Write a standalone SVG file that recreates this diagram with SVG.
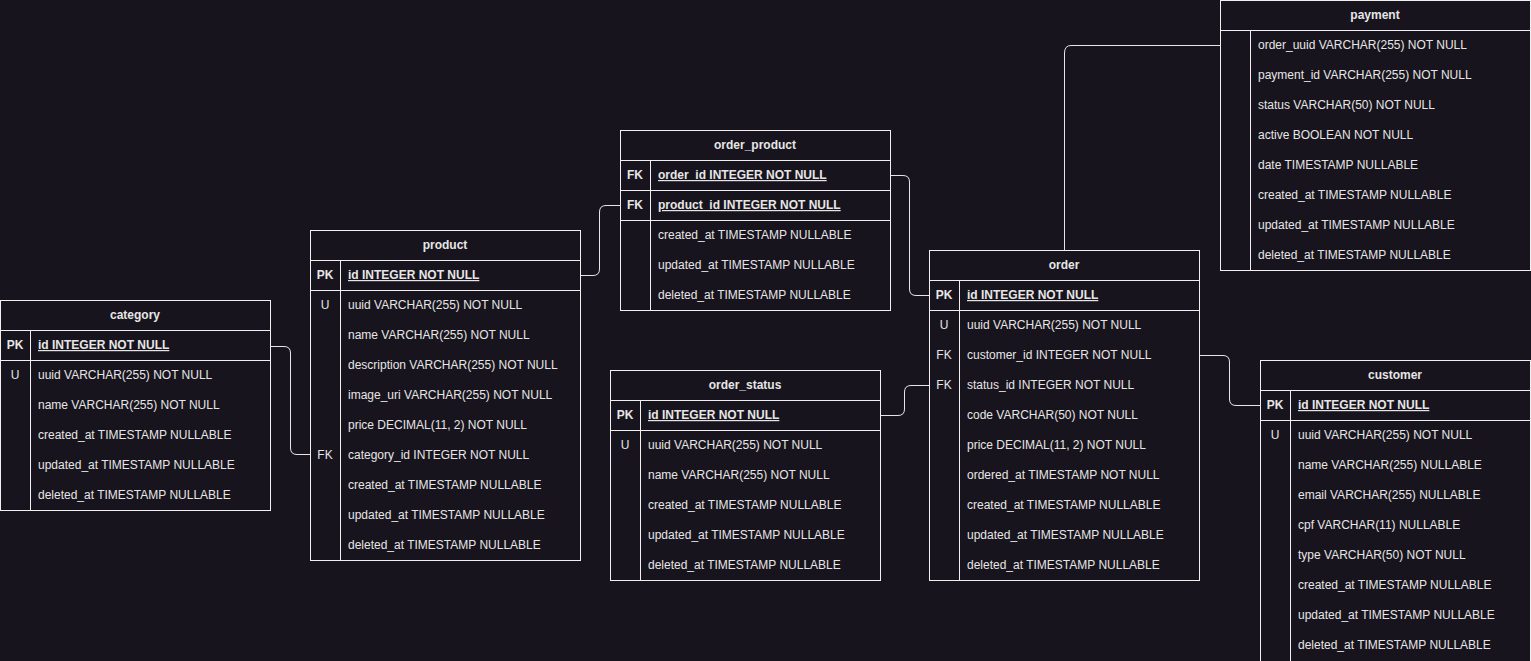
<svg xmlns="http://www.w3.org/2000/svg" width="1531" height="661" viewBox="0 0 1531 661">
<style>
.bg{fill:#18141d}
.tb{fill:#18141d;stroke:#f0f0f0;stroke-width:1}
.ln{stroke:#f0f0f0;stroke-width:1;fill:none}
.cn{stroke:#e6e6e6;stroke-width:1;fill:none}
text{font-family:"Liberation Sans",Arial,Helvetica,sans-serif;font-size:12px;fill:#e6e6e6}
.h{font-weight:bold;text-anchor:middle}
.k{text-anchor:middle}
.kb{text-anchor:middle;font-weight:bold}
.pk{font-weight:bold;text-decoration:underline}
</style>
<rect class="bg" x="0" y="0" width="1531" height="661"/>

<g id="connectors">
<path class="cn" d="M270.5,346.5 H284 Q290.5,346.5 290.5,353 V448 Q290.5,454.5 297,454.5 H310.5"/>
<path class="cn" d="M580.5,275.5 H593 Q599.5,275.5 599.5,269 V212 Q599.5,205.5 606,205.5 H620.5"/>
<path class="cn" d="M890.5,175.5 H903 Q909.5,175.5 909.5,182 V289 Q909.5,295.5 916,295.5 H929.5"/>
<path class="cn" d="M880.5,415.5 H898 Q904.5,415.5 904.5,409 V392 Q904.5,385.5 911,385.5 H929.5"/>
<path class="cn" d="M1199.5,355.5 H1223 Q1229.5,355.5 1229.5,362 V399 Q1229.5,405.5 1236,405.5 H1260.5"/>
<path class="cn" d="M1064.5,250.5 V53 Q1064.5,45.5 1071,45.5 H1220.5"/>
</g>

<g id="category">
<rect class="tb" x="0.5" y="300.5" width="270" height="210"/>
<path class="ln" d="M0.5,330.5 H270.5 M0.5,360.5 H270.5 M30.5,330.5 V510.5"/>
<text class="h" x="135" y="319">category</text>
<text class="kb" x="15" y="349">PK</text><text class="pk" x="38" y="349">id INTEGER NOT NULL</text>
<text class="k" x="15" y="379">U</text><text x="38" y="379">uuid VARCHAR(255) NOT NULL</text>
<text x="38" y="409">name VARCHAR(255) NOT NULL</text>
<text x="38" y="439">created_at TIMESTAMP NULLABLE</text>
<text x="38" y="469">updated_at TIMESTAMP NULLABLE</text>
<text x="38" y="499">deleted_at TIMESTAMP NULLABLE</text>
</g>

<g id="product">
<rect class="tb" x="310.5" y="230.5" width="270" height="330"/>
<path class="ln" d="M310.5,260.5 H580.5 M310.5,290.5 H580.5 M340.5,260.5 V560.5"/>
<text class="h" x="445" y="249">product</text>
<text class="kb" x="325" y="279">PK</text><text class="pk" x="348" y="279">id INTEGER NOT NULL</text>
<text class="k" x="325" y="309">U</text><text x="348" y="309">uuid VARCHAR(255) NOT NULL</text>
<text x="348" y="339">name VARCHAR(255) NOT NULL</text>
<text x="348" y="369">description VARCHAR(255) NOT NULL</text>
<text x="348" y="399">image_uri VARCHAR(255) NOT NULL</text>
<text x="348" y="429">price DECIMAL(11, 2) NOT NULL</text>
<text class="k" x="325" y="459">FK</text><text x="348" y="459">category_id INTEGER NOT NULL</text>
<text x="348" y="489">created_at TIMESTAMP NULLABLE</text>
<text x="348" y="519">updated_at TIMESTAMP NULLABLE</text>
<text x="348" y="549">deleted_at TIMESTAMP NULLABLE</text>
</g>

<g id="order_product">
<rect class="tb" x="620.5" y="130.5" width="270" height="180"/>
<path class="ln" d="M620.5,160.5 H890.5 M620.5,190.5 H890.5 M620.5,220.5 H890.5 M650.5,160.5 V310.5"/>
<text class="h" x="755" y="149">order_product</text>
<text class="kb" x="635" y="179">FK</text><text class="pk" x="658" y="179">order_id INTEGER NOT NULL</text>
<text class="kb" x="635" y="209">FK</text><text class="pk" x="658" y="209">product_id INTEGER NOT NULL</text>
<text x="658" y="239">created_at TIMESTAMP NULLABLE</text>
<text x="658" y="269">updated_at TIMESTAMP NULLABLE</text>
<text x="658" y="299">deleted_at TIMESTAMP NULLABLE</text>
</g>

<g id="order_status">
<rect class="tb" x="610.5" y="370.5" width="270" height="210"/>
<path class="ln" d="M610.5,400.5 H880.5 M610.5,430.5 H880.5 M640.5,400.5 V580.5"/>
<text class="h" x="745" y="389">order_status</text>
<text class="kb" x="625" y="419">PK</text><text class="pk" x="648" y="419">id INTEGER NOT NULL</text>
<text class="k" x="625" y="449">U</text><text x="648" y="449">uuid VARCHAR(255) NOT NULL</text>
<text x="648" y="479">name VARCHAR(255) NOT NULL</text>
<text x="648" y="509">created_at TIMESTAMP NULLABLE</text>
<text x="648" y="539">updated_at TIMESTAMP NULLABLE</text>
<text x="648" y="569">deleted_at TIMESTAMP NULLABLE</text>
</g>

<g id="order">
<rect class="tb" x="929.5" y="250.5" width="270" height="330"/>
<path class="ln" d="M929.5,280.5 H1199.5 M929.5,310.5 H1199.5 M959.5,280.5 V580.5"/>
<text class="h" x="1064" y="269">order</text>
<text class="kb" x="944" y="299">PK</text><text class="pk" x="967" y="299">id INTEGER NOT NULL</text>
<text class="k" x="944" y="329">U</text><text x="967" y="329">uuid VARCHAR(255) NOT NULL</text>
<text class="k" x="944" y="359">FK</text><text x="967" y="359">customer_id INTEGER NOT NULL</text>
<text class="k" x="944" y="389">FK</text><text x="967" y="389">status_id INTEGER NOT NULL</text>
<text x="967" y="419">code VARCHAR(50) NOT NULL</text>
<text x="967" y="449">price DECIMAL(11, 2) NOT NULL</text>
<text x="967" y="479">ordered_at TIMESTAMP NOT NULL</text>
<text x="967" y="509">created_at TIMESTAMP NULLABLE</text>
<text x="967" y="539">updated_at TIMESTAMP NULLABLE</text>
<text x="967" y="569">deleted_at TIMESTAMP NULLABLE</text>
</g>

<g id="payment">
<rect class="tb" x="1220.5" y="0.5" width="310" height="270"/>
<path class="ln" d="M1220.5,30.5 H1530.5 M1250.5,30.5 V270.5"/>
<text class="h" x="1375" y="19">payment</text>
<text x="1258" y="49">order_uuid VARCHAR(255) NOT NULL</text>
<text x="1258" y="79">payment_id VARCHAR(255) NOT NULL</text>
<text x="1258" y="109">status VARCHAR(50) NOT NULL</text>
<text x="1258" y="139">active BOOLEAN NOT NULL</text>
<text x="1258" y="169">date TIMESTAMP NULLABLE</text>
<text x="1258" y="199">created_at TIMESTAMP NULLABLE</text>
<text x="1258" y="229">updated_at TIMESTAMP NULLABLE</text>
<text x="1258" y="259">deleted_at TIMESTAMP NULLABLE</text>
</g>

<g id="customer">
<rect class="tb" x="1260.5" y="360.5" width="270" height="301"/>
<path class="ln" d="M1260.5,390.5 H1530.5 M1260.5,420.5 H1530.5 M1290.5,390.5 V661.5"/>
<text class="h" x="1395" y="379">customer</text>
<text class="kb" x="1275" y="409">PK</text><text class="pk" x="1298" y="409">id INTEGER NOT NULL</text>
<text class="k" x="1275" y="439">U</text><text x="1298" y="439">uuid VARCHAR(255) NOT NULL</text>
<text x="1298" y="469">name VARCHAR(255) NULLABLE</text>
<text x="1298" y="499">email VARCHAR(255) NULLABLE</text>
<text x="1298" y="529">cpf VARCHAR(11) NULLABLE</text>
<text x="1298" y="559">type VARCHAR(50) NOT NULL</text>
<text x="1298" y="589">created_at TIMESTAMP NULLABLE</text>
<text x="1298" y="619">updated_at TIMESTAMP NULLABLE</text>
<text x="1298" y="649">deleted_at TIMESTAMP NULLABLE</text>
</g>
</svg>
